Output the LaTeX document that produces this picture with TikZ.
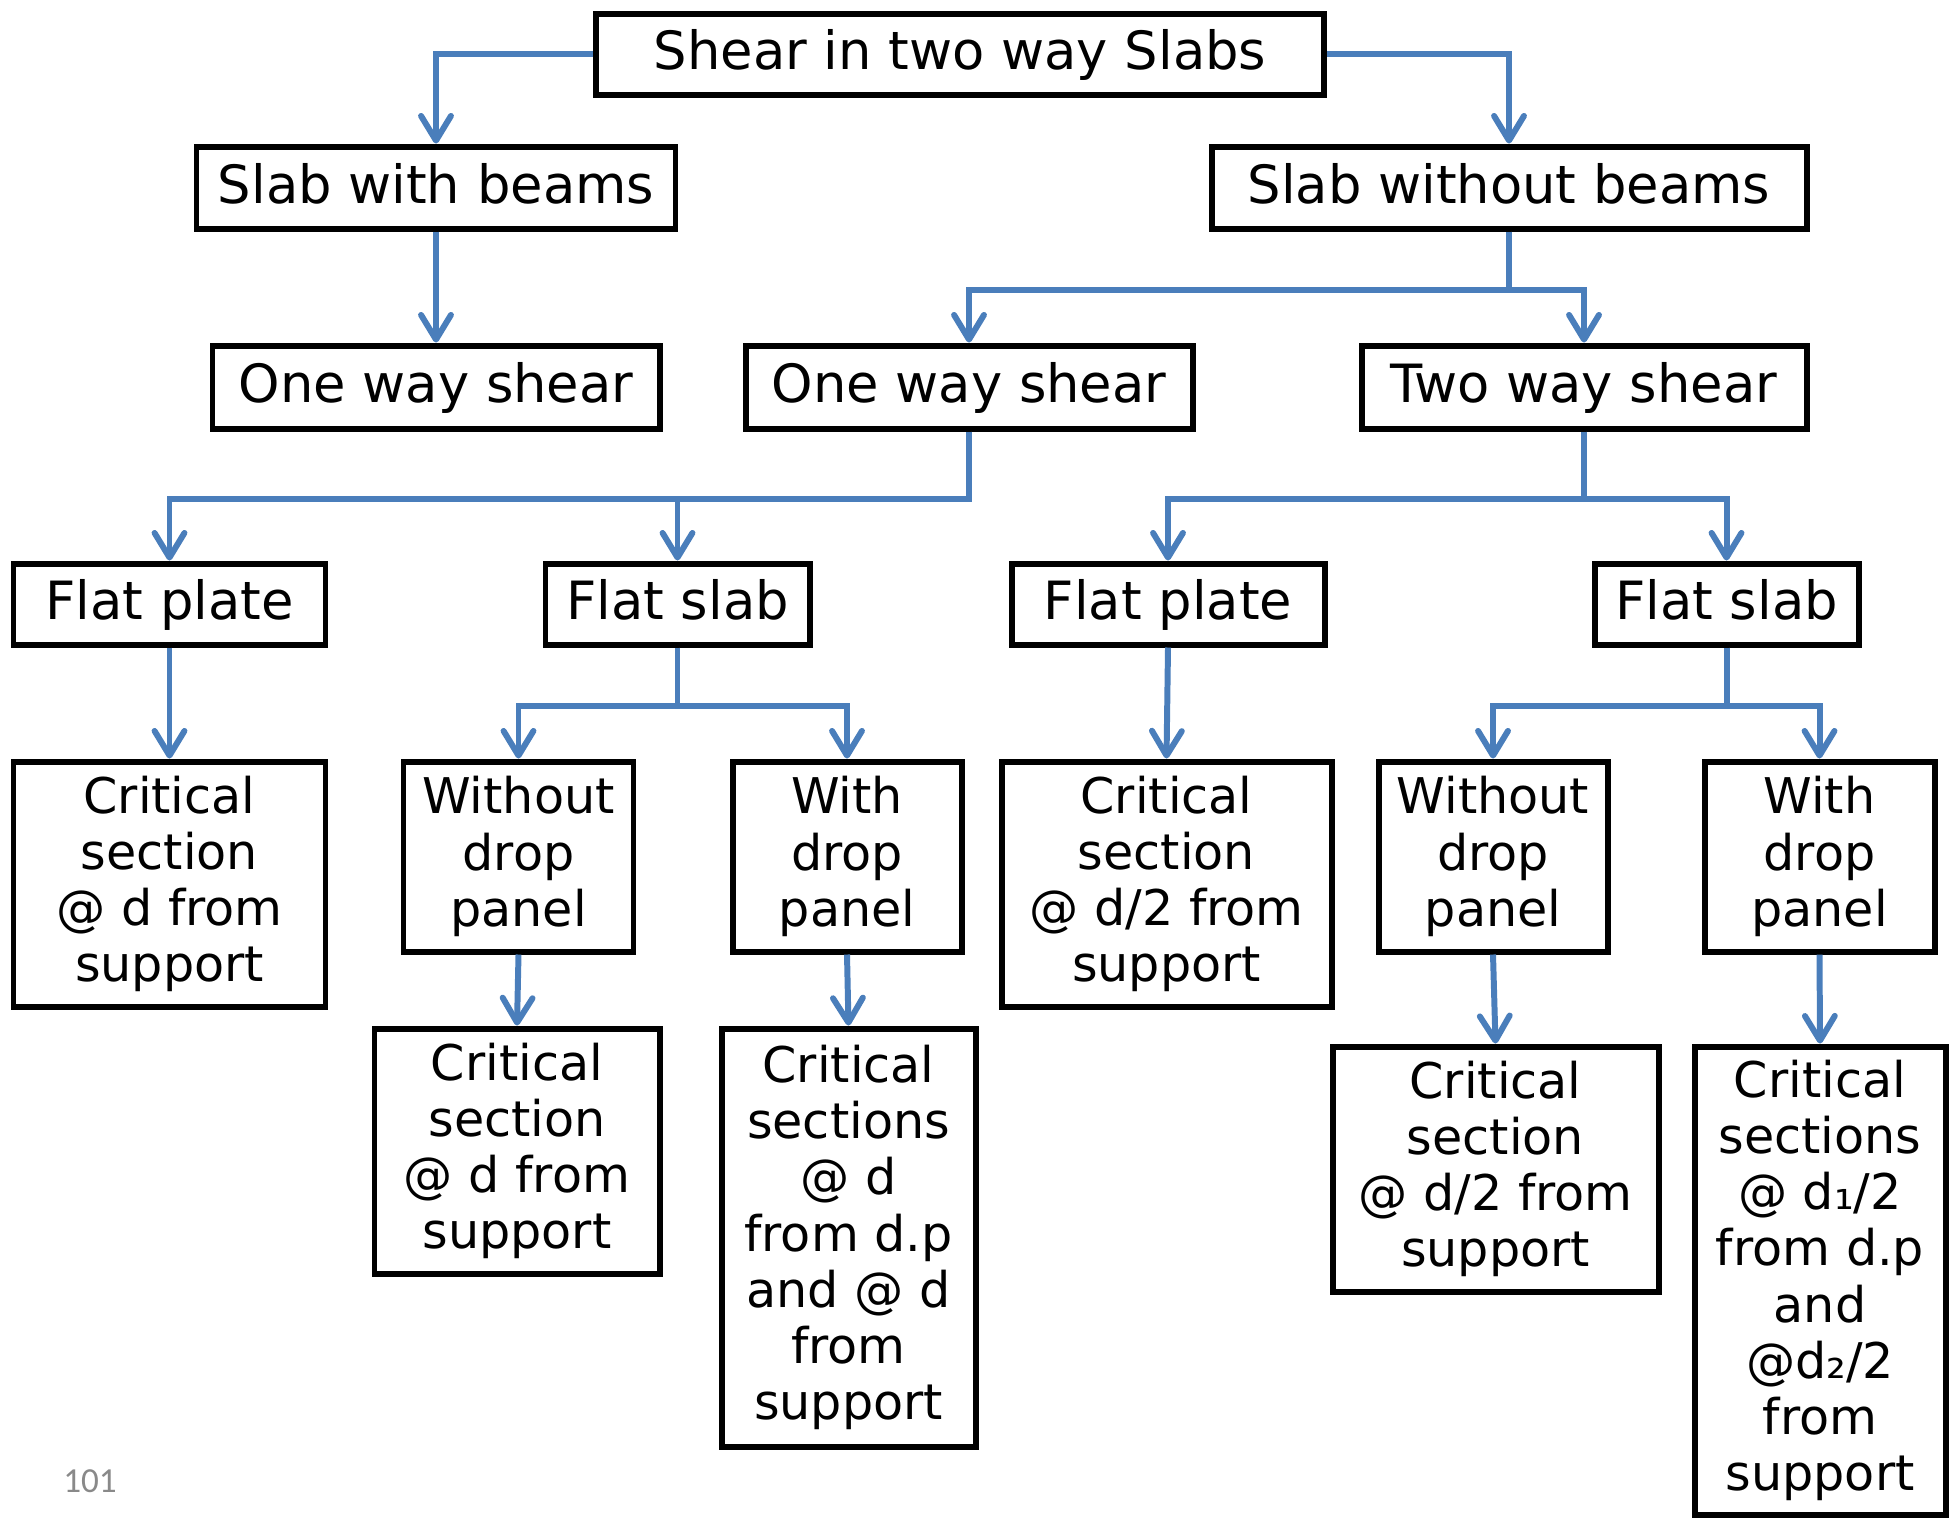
\documentclass[tikz,border=0pt]{standalone}
\usepackage{fontspec}
\setmainfont{DejaVu Sans}
\newfontfamily\pagefont{Carlito}
\usetikzlibrary{arrows.meta}
\definecolor{linkblue}{RGB}{74,126,187}
\definecolor{pagegray}{RGB}{137,137,137}

\begin{document}
\begin{tikzpicture}[
  box/.style={draw, line width=1.7pt, inner sep=0pt, text height=11pt, text depth=2pt,
    font=\fontsize{15}{18}\selectfont},
  leaf/.style={box, align=center, text height=, text depth=, font=\fontsize{14}{16}\selectfont},
  link/.style={draw=linkblue, line width=1.7pt, -{Straight Barb[length=7pt,width=8.5pt,round]}}
]
  \useasboundingbox (0,0) rectangle (19.58,-15.20);

  % top levels
  \node[box, minimum width=7.28cm, minimum height=0.81cm] (top) at (9.60,-0.54) {Shear in two way Slabs};
  \node[box, minimum width=4.79cm, minimum height=0.82cm] (sw)  at (4.36,-1.875) {Slab with beams};
  \node[box, minimum width=5.95cm, minimum height=0.82cm] (swo) at (15.09,-1.875) {Slab without beams};

  \node[box, minimum width=4.47cm, minimum height=0.83cm] (oneL) at (4.36,-3.87) {One way shear};
  \node[box, minimum width=4.47cm, minimum height=0.83cm] (oneM) at (9.69,-3.87) {One way shear};
  \node[box, minimum width=4.45cm, minimum height=0.83cm] (two)  at (15.84,-3.87) {Two way shear};

  % slab types
  \node[box, minimum width=3.12cm, minimum height=0.81cm] (fpL) at (1.695,-6.04) {Flat plate};
  \node[box, minimum width=2.64cm, minimum height=0.81cm] (fsL) at (6.775,-6.04) {Flat slab};
  \node[box, minimum width=3.13cm, minimum height=0.81cm] (fpR) at (11.68,-6.04) {Flat plate};
  \node[box, minimum width=2.64cm, minimum height=0.81cm] (fsR) at (17.265,-6.04) {Flat slab};

  % drop panels and critical sections
  \node[leaf, minimum width=3.12cm, minimum height=2.45cm] (csL) at (1.695,-8.84) {Critical\\section\\@ d from\\support};
  \node[leaf, minimum width=2.30cm, minimum height=1.90cm] (wdL) at (5.185,-8.565) {Without\\drop\\panel};
  \node[leaf, minimum width=2.29cm, minimum height=1.90cm] (wpL) at (8.47,-8.565) {With\\drop\\panel};
  \node[leaf, minimum width=3.30cm, minimum height=2.45cm] (csR) at (11.665,-8.84) {Critical\\section\\@ d/2 from\\support};
  \node[leaf, minimum width=2.29cm, minimum height=1.90cm] (wdR) at (14.93,-8.565) {Without\\drop\\panel};
  \node[leaf, minimum width=2.30cm, minimum height=1.90cm] (wpR) at (18.195,-8.565) {With\\drop\\panel};

  \node[leaf, minimum width=2.85cm, minimum height=2.45cm] (csWdL) at (5.17,-11.51) {Critical\\section\\@ d from\\support};
  \node[leaf, minimum width=2.54cm, minimum height=4.18cm] (csWpL) at (8.485,-12.375) {Critical\\sections\\@ d\\from d.p\\and @ d\\from\\support};
  \node[leaf, minimum width=3.26cm, minimum height=2.45cm] (csWdR) at (14.955,-11.69) {Critical\\section\\@ d/2 from\\support};
  \node[leaf, minimum width=2.51cm, minimum height=4.68cm] (csWpR) at (18.20,-12.805) {Critical\\sections\\@ d₁/2\\from d.p\\and\\@d₂/2\\from\\support};

  % page number
  \node[text=pagegray, font=\pagefont\fontsize{10}{12}\selectfont] (pageno) at (0.90,-14.81) {101};

  % connectors
  \draw[link] (top.west) -| (sw.north);
  \draw[link] (top.east) -| (swo.north);
  \draw[link] (sw.south) -- (oneL.north);
  \draw[link] (swo.south) -- ++(0,-0.585) -| (oneM.north);
  \draw[link] (swo.south) -- ++(0,-0.585) -| (two.north);
  \draw[link] (oneM.south) -- ++(0,-0.675) -| (fpL.north);
  \draw[link] (oneM.south) -- ++(0,-0.675) -| (fsL.north);
  \draw[link] (two.south) -- ++(0,-0.675) -| (fpR.north);
  \draw[link] (two.south) -- ++(0,-0.675) -| (fsR.north);
  \draw[link] (fpL.south) -- (csL.north);
  \draw[link] (fsL.south) -- ++(0,-0.585) -| (wdL.north);
  \draw[link] (fsL.south) -- ++(0,-0.585) -| (wpL.north);
  \draw[link] (fpR.south) -- (csR.north);
  \draw[link] (fsR.south) -- ++(0,-0.585) -| (wdR.north);
  \draw[link] (fsR.south) -- ++(0,-0.585) -| (wpR.north);
  \draw[link] (wdL.south) -- (csWdL.north);
  \draw[link] (wpL.south) -- (csWpL.north);
  \draw[link] (wdR.south) -- (csWdR.north);
  \draw[link] (wpR.south) -- (csWpR.north);
\end{tikzpicture}
\end{document}
